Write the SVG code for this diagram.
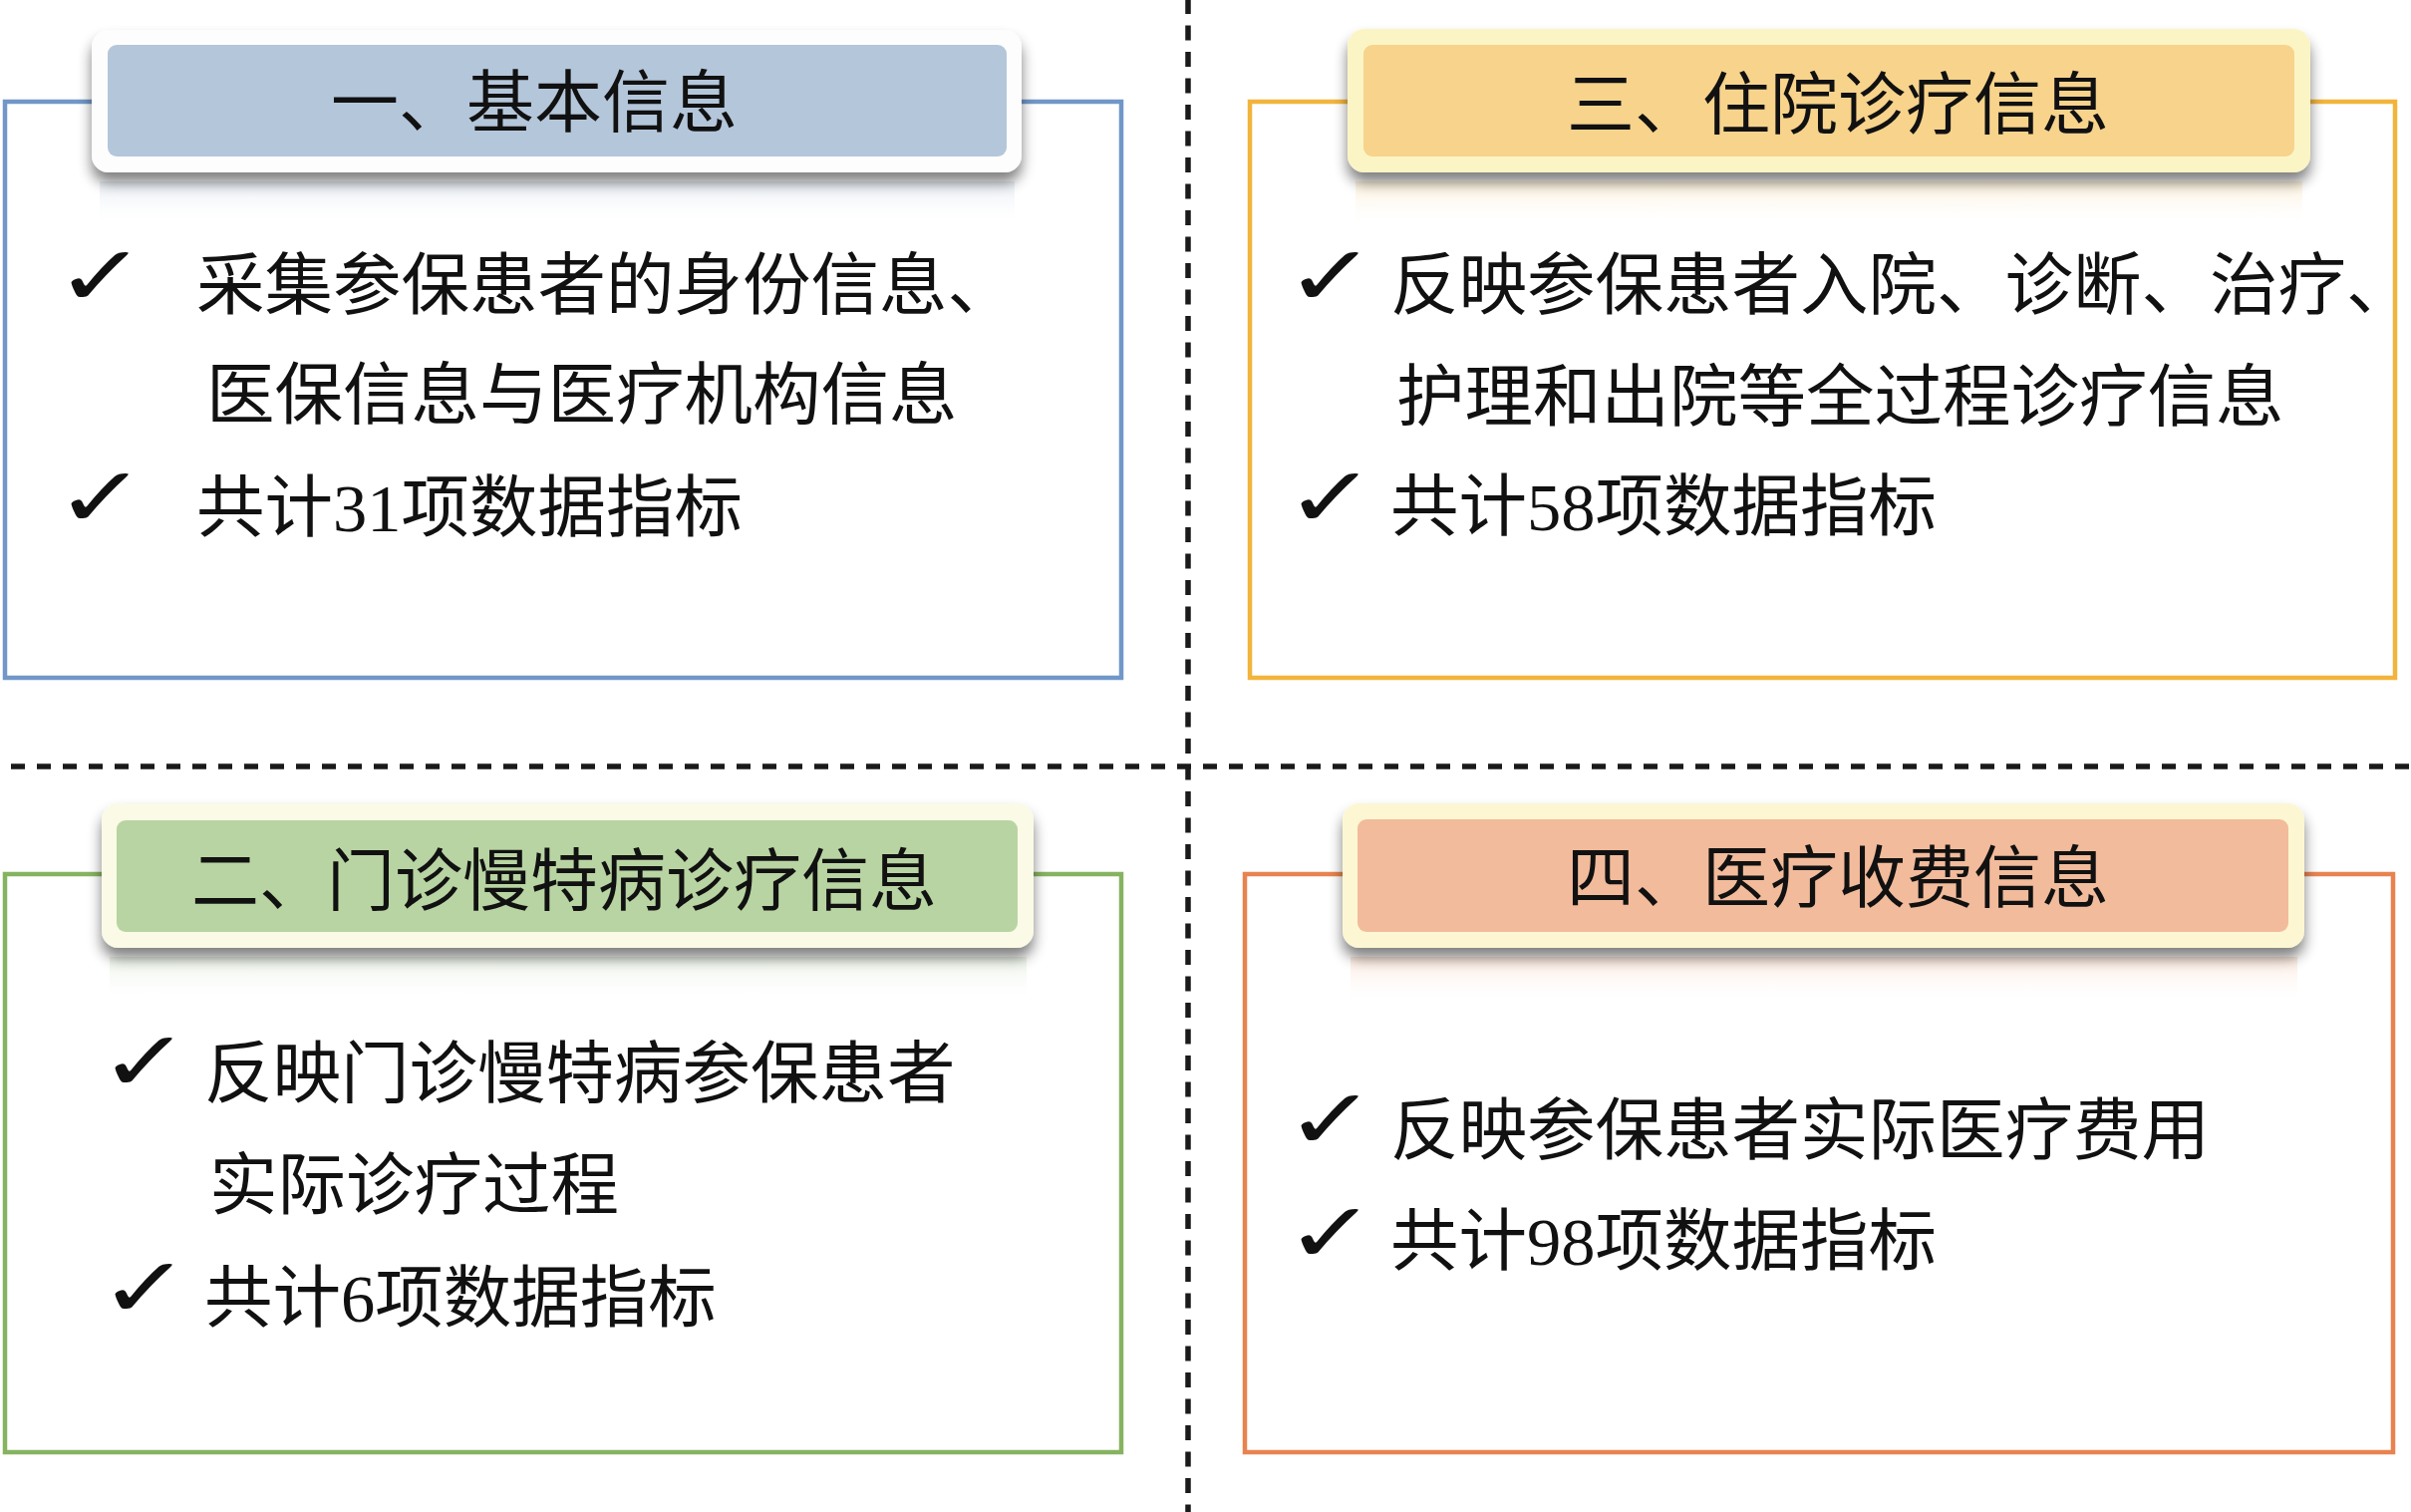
<svg xmlns="http://www.w3.org/2000/svg" width="2419" height="1517" viewBox="0 0 2419 1517">
<style>
.txt{font-family:"Liberation Serif","Noto Sans CJK SC",serif;font-size:68.5px;fill:#111;}
.ttl{font-family:"Liberation Serif","Noto Sans CJK SC",serif;font-size:68px;fill:#111;text-anchor:middle;}
.chk{font-family:"DejaVu Sans",sans-serif;font-weight:200;font-size:84px;fill:#111;}
.frame{fill:none;stroke-width:4.5;}
.dash{fill:none;stroke:#1a1a1a;stroke-width:5.5;}
</style>
<defs>
<filter id="sh" x="-5%" y="-30%" width="110%" height="180%">
<feGaussianBlur in="SourceAlpha" stdDeviation="7"/>
<feOffset dx="0" dy="10" result="b"/>
<feComponentTransfer><feFuncA type="linear" slope="0.5"/></feComponentTransfer>
<feMerge><feMergeNode/><feMergeNode in="SourceGraphic"/></feMerge>
</filter>
<linearGradient id="reflB" x1="0" y1="0" x2="0" y2="1"><stop offset="0" stop-color="#dfe6ee" stop-opacity="0.7"/><stop offset="1" stop-color="#ffffff" stop-opacity="0"/></linearGradient>
<linearGradient id="reflO" x1="0" y1="0" x2="0" y2="1"><stop offset="0" stop-color="#fbecd0" stop-opacity="0.8"/><stop offset="1" stop-color="#ffffff" stop-opacity="0"/></linearGradient>
<linearGradient id="reflG" x1="0" y1="0" x2="0" y2="1"><stop offset="0" stop-color="#e6efe0" stop-opacity="0.8"/><stop offset="1" stop-color="#ffffff" stop-opacity="0"/></linearGradient>
<linearGradient id="reflS" x1="0" y1="0" x2="0" y2="1"><stop offset="0" stop-color="#fbe2d4" stop-opacity="0.8"/><stop offset="1" stop-color="#ffffff" stop-opacity="0"/></linearGradient>
</defs>
<rect width="2419" height="1517" fill="#ffffff"/>

<g id="dividers">
<path class="dash" d="M-15 769 H2419" stroke-dasharray="14 12"/>
<path class="dash" d="M1192 -1 V1517" stroke-dasharray="15 11.5"/>
</g>

<g id="node-basic">
<rect class="frame" x="5" y="102" width="1120" height="578" stroke="#7097c8"/>
<rect x="100" y="182" width="918" height="45" fill="url(#reflB)"/>
<rect x="92" y="30" width="933" height="143" rx="17" fill="#fdfdfd" filter="url(#sh)"/>
<rect x="108" y="45" width="902" height="112" rx="9" fill="#b4c6da"/>
<text class="ttl" x="536" y="127">一、基本信息</text>
<text class="chk" x="55" y="306" textLength="92" lengthAdjust="spacingAndGlyphs">✓</text>
<text class="txt" x="197" y="310">采集参保患者的身份信息、</text>
<text class="txt" x="207" y="420">医保信息与医疗机构信息</text>
<text class="chk" x="55" y="528" textLength="92" lengthAdjust="spacingAndGlyphs">✓</text>
<text class="txt" x="197" y="533">共计31项数据指标</text>
</g>

<g id="node-inpatient">
<rect class="frame" x="1254" y="102" width="1149" height="578" stroke="#f2b43c"/>
<rect x="1360" y="182" width="950" height="45" fill="url(#reflO)"/>
<rect x="1352" y="29" width="966" height="144" rx="17" fill="#fbf5c6" filter="url(#sh)"/>
<rect x="1368" y="45" width="934" height="112" rx="9" fill="#f7d38c"/>
<text class="ttl" x="1844" y="129">三、住院诊疗信息</text>
<text class="chk" x="1289" y="306" textLength="92" lengthAdjust="spacingAndGlyphs">✓</text>
<text class="txt" x="1395" y="310">反映参保患者入院、诊断、治疗、</text>
<text class="txt" x="1401" y="422">护理和出院等全过程诊疗信息</text>
<text class="chk" x="1289" y="528" textLength="92" lengthAdjust="spacingAndGlyphs">✓</text>
<text class="txt" x="1395" y="532">共计58项数据指标</text>
</g>

<g id="node-outpatient">
<rect class="frame" x="5" y="877" width="1120" height="580" stroke="#86b360"/>
<rect x="110" y="960" width="920" height="45" fill="url(#reflG)"/>
<rect x="102" y="806" width="935" height="145" rx="17" fill="#fafae6" filter="url(#sh)"/>
<rect x="117" y="823" width="904" height="112" rx="9" fill="#b8d4a2"/>
<text class="ttl" x="566" y="908">二、门诊慢特病诊疗信息</text>
<text class="chk" x="99" y="1094" textLength="92" lengthAdjust="spacingAndGlyphs">✓</text>
<text class="txt" x="205" y="1101">反映门诊慢特病参保患者</text>
<text class="txt" x="210" y="1213">实际诊疗过程</text>
<text class="chk" x="99" y="1321" textLength="92" lengthAdjust="spacingAndGlyphs">✓</text>
<text class="txt" x="205" y="1326">共计6项数据指标</text>
</g>

<g id="node-fees">
<rect class="frame" x="1249" y="877" width="1152" height="580" stroke="#e8834f"/>
<rect x="1355" y="960" width="950" height="45" fill="url(#reflS)"/>
<rect x="1347" y="806" width="965" height="145" rx="17" fill="#fcf7d2" filter="url(#sh)"/>
<rect x="1362" y="822" width="934" height="113" rx="9" fill="#f2bb9b"/>
<text class="ttl" x="1844" y="905">四、医疗收费信息</text>
<text class="chk" x="1289" y="1152" textLength="92" lengthAdjust="spacingAndGlyphs">✓</text>
<text class="txt" x="1395" y="1158">反映参保患者实际医疗费用</text>
<text class="chk" x="1289" y="1266" textLength="92" lengthAdjust="spacingAndGlyphs">✓</text>
<text class="txt" x="1395" y="1269">共计98项数据指标</text>
</g>
</svg>
